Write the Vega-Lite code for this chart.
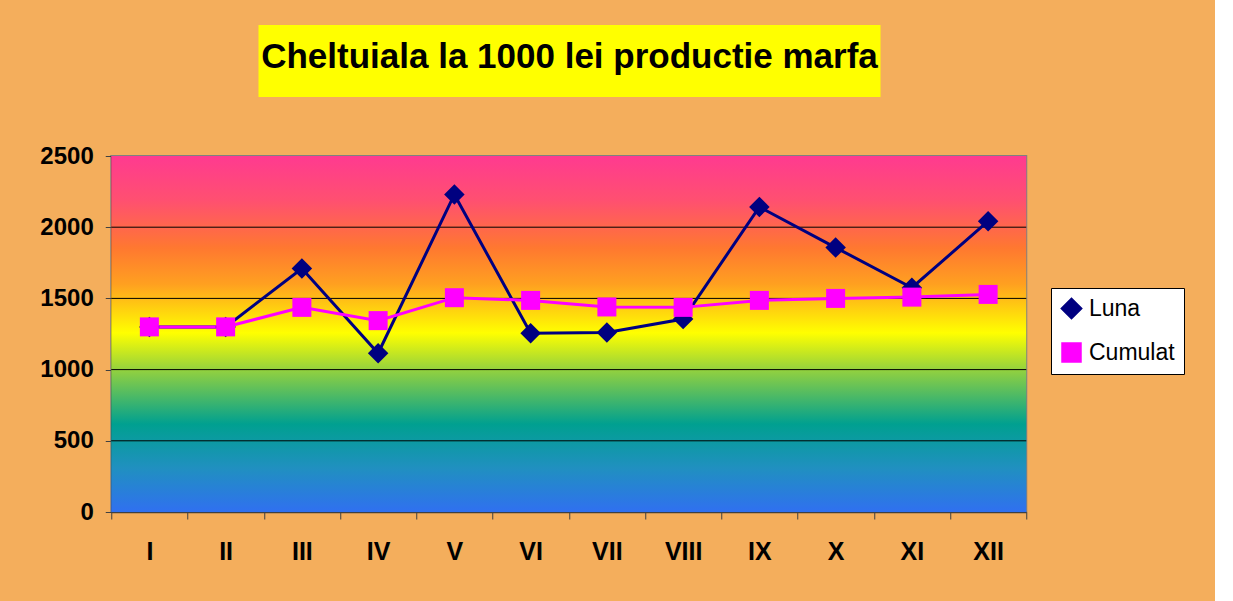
{
  "$schema": "https://vega.github.io/schema/vega-lite/v6.json",
  "background": "#F4AE5C",
  "padding": {"left": 38, "top": 25, "right": 30, "bottom": 60},
  "spacing": 46,
  "center": true,
  "config": {"font": "Liberation Sans", "view": {"stroke": null}},
  "datasets": {
    "heading": [{"text": "Cheltuiala la 1000 lei productie marfa"}],
    "plotarea": [{"from": 0, "to": 2500}],
    "grid": [{"level": 500}, {"level": 1000}, {"level": 1500}, {"level": 2000}],
    "points": [
      {"month": "I", "series": "Luna", "value": 1300},
      {"month": "II", "series": "Luna", "value": 1300},
      {"month": "III", "series": "Luna", "value": 1710},
      {"month": "IV", "series": "Luna", "value": 1115},
      {"month": "V", "series": "Luna", "value": 2230},
      {"month": "VI", "series": "Luna", "value": 1255},
      {"month": "VII", "series": "Luna", "value": 1260},
      {"month": "VIII", "series": "Luna", "value": 1355},
      {"month": "IX", "series": "Luna", "value": 2142},
      {"month": "X", "series": "Luna", "value": 1857},
      {"month": "XI", "series": "Luna", "value": 1575},
      {"month": "XII", "series": "Luna", "value": 2042},
      {"month": "I", "series": "Cumulat", "value": 1300},
      {"month": "II", "series": "Cumulat", "value": 1300},
      {"month": "III", "series": "Cumulat", "value": 1437},
      {"month": "IV", "series": "Cumulat", "value": 1344},
      {"month": "V", "series": "Cumulat", "value": 1505},
      {"month": "VI", "series": "Cumulat", "value": 1486},
      {"month": "VII", "series": "Cumulat", "value": 1440},
      {"month": "VIII", "series": "Cumulat", "value": 1437},
      {"month": "IX", "series": "Cumulat", "value": 1486},
      {"month": "X", "series": "Cumulat", "value": 1500},
      {"month": "XI", "series": "Cumulat", "value": 1509},
      {"month": "XII", "series": "Cumulat", "value": 1528}
    ]
  },
  "vconcat": [
    {
      "width": 622,
      "height": 72,
      "data": {"name": "heading"},
      "view": {"fill": "#FFFF00", "stroke": null},
      "mark": {"type": "text", "font": "Liberation Sans", "fontWeight": "bold", "fontSize": 35, "color": "#000000", "align": "center", "baseline": "alphabetic", "dy": 7},
      "encoding": {"text": {"field": "text", "type": "nominal"}}
    },
    {
      "width": 915,
      "height": 356,
      "view": {"stroke": "#808080", "strokeWidth": 2},
      "layer": [
        {
          "data": {"name": "plotarea"},
          "mark": {
            "type": "rect",
            "fill": {
              "gradient": "linear", "x1": 0, "y1": 0, "x2": 0, "y2": 1,
              "stops": [
                {"offset": 0, "color": "#FF3A90"},
                {"offset": 0.126, "color": "#FF5070"},
                {"offset": 0.258, "color": "#FF7830"},
                {"offset": 0.36, "color": "#FFA020"},
                {"offset": 0.497, "color": "#FFFF00"},
                {"offset": 0.604, "color": "#90D040"},
                {"offset": 0.753, "color": "#00A090"},
                {"offset": 0.876, "color": "#2090C0"},
                {"offset": 1, "color": "#3070F0"}
              ]
            }
          },
          "encoding": {
            "y": {
              "field": "from", "type": "quantitative",
              "scale": {"domain": [0, 2500], "nice": false},
              "axis": {"title": null, "values": [0, 500, 1000, 1500, 2000, 2500], "format": "d", "labelFont": "Liberation Sans", "labelFontSize": 24, "labelFontWeight": "bold", "labelColor": "#000000", "labelPadding": 12, "tickSize": 6, "tickColor": "#404040", "domainColor": "#404040", "domainWidth": 1.5, "grid": false}
            },
            "y2": {"field": "to"}
          }
        },
        {
          "data": {"name": "grid"},
          "mark": {"type": "rule", "color": "#000000", "strokeWidth": 1},
          "encoding": {
            "y": {"field": "level", "type": "quantitative"}
          }
        },
        {
          "data": {"name": "points"},
          "encoding": {
            "x": {
              "field": "month", "type": "nominal",
              "sort": ["I", "II", "III", "IV", "V", "VI", "VII", "VIII", "IX", "X", "XI", "XII"],
              "scale": {"type": "band", "paddingInner": 0, "paddingOuter": 0},
              "axis": {"title": null, "labelAngle": 0, "tickBand": "extent", "labelFont": "Liberation Sans", "labelFontSize": 25, "labelFontWeight": "bold", "labelColor": "#000000", "labelPadding": 20, "tickSize": 7, "tickColor": "#404040", "domainColor": "#404040", "domainWidth": 1.5, "grid": false}
            },
            "y": {
              "field": "value", "type": "quantitative",
              "axis": {"title": null, "values": [0, 500, 1000, 1500, 2000, 2500], "format": "d", "labelFont": "Liberation Sans", "labelFontSize": 24, "labelFontWeight": "bold", "labelColor": "#000000", "labelPadding": 12, "tickSize": 6, "tickColor": "#404040", "domainColor": "#404040", "domainWidth": 1.5, "grid": false}
            },
            "color": {
              "field": "series", "type": "nominal",
              "scale": {"domain": ["Luna", "Cumulat"], "range": ["#000080", "#FF00FF"]},
              "legend": {
                "orient": "none", "legendX": 940, "legendY": 263, "title": null,
                "fillColor": "#FFFFFF", "strokeColor": "#000000", "padding": 9,
                "labelFont": "Liberation Sans", "labelFontSize": 23, "labelColor": "#000000", "labelOffset": 6,
                "rowPadding": 18
              }
            }
          },
          "layer": [
            {"mark": {"type": "line", "strokeWidth": 3}},
            {
              "mark": {"type": "point", "filled": true, "opacity": 1},
              "encoding": {
                "shape": {"field": "series", "type": "nominal", "scale": {"domain": ["Luna", "Cumulat"], "range": ["diamond", "square"]}, "legend": null},
                "size": {"field": "series", "type": "nominal", "scale": {"domain": ["Luna", "Cumulat"], "range": [420, 361]}, "legend": null}
              }
            }
          ]
        }
      ]
    }
  ]
}
